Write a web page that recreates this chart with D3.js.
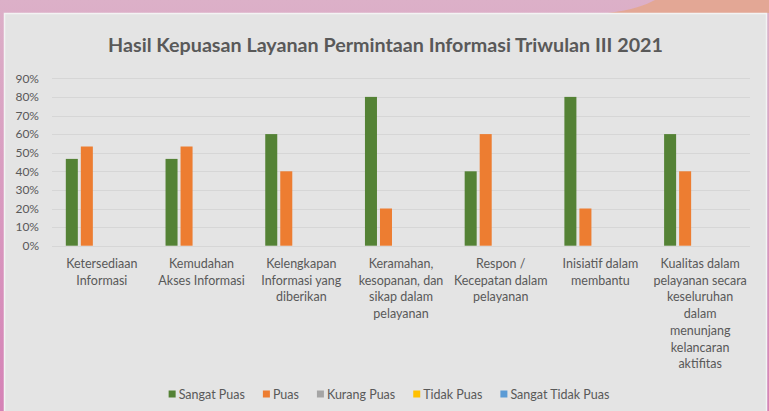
<!DOCTYPE html>
<html>
<head>
<meta charset="utf-8">
<script src="https://cdn.jsdelivr.net/npm/d3@7"></script>
<style>
  html, body { margin: 0; padding: 0; background: #dcb0c8; }
  svg { display: block; }
</style>
</head>
<body>
<div id="chart"></div>
<script>
// data
const categories = [
  "Ketersediaan\nInformasi",
  "Kemudahan\nAkses Informasi",
  "Kelengkapan\nInformasi yang\ndiberikan",
  "Keramahan,\nkesopanan, dan\nsikap dalam\npelayanan",
  "Respon /\nKecepatan dalam\npelayanan",
  "Inisiatif dalam\nmembantu",
  "Kualitas dalam\npelayanan secara\nkeseluruhan\ndalam\nmenunjang\nkelancaran\naktifitas"
];
const seriesNames = ["Sangat Puas", "Puas", "Kurang Puas", "Tidak Puas", "Sangat Tidak Puas"];
const sangatPuas = [0.4667, 0.4667, 0.6, 0.8, 0.4, 0.8, 0.6];
const puas = [0.5333, 0.5333, 0.4, 0.2, 0.6, 0.2, 0.4];
const kurangPuas = [0, 0, 0, 0, 0, 0, 0];
const tidakPuas = [0, 0, 0, 0, 0, 0, 0];
const sangatTidakPuas = [0, 0, 0, 0, 0, 0, 0];
const yTicks = [0, 0.1, 0.2, 0.3, 0.4, 0.5, 0.6, 0.7, 0.8, 0.9];
const title = "Hasil Kepuasan Layanan Permintaan Informasi Triwulan III 2021";

const seriesValues = [sangatPuas, puas, kurangPuas, tidakPuas, sangatTidakPuas];
const colors = ["#548235", "#ed7d31", "#a5a5a5", "#ffc000", "#5b9bd5"];

const W = 769, H = 411;
const font = "Lato, 'Open Sans', sans-serif";
const textColor = "#595959";
const labelSize = "12.5px";

const svg = d3.select("#chart").append("svg")
  .attr("width", W).attr("height", H);

// background decoration
const defs = svg.append("defs");
const grad = defs.append("linearGradient").attr("id", "pinkbg")
  .attr("x1", 0).attr("y1", 0).attr("x2", 0).attr("y2", 1);
grad.append("stop").attr("offset", "0%").attr("stop-color", "#dcb0c8");
grad.append("stop").attr("offset", "100%").attr("stop-color", "#d582b6");

svg.append("rect").attr("width", W).attr("height", H).attr("fill", "url(#pinkbg)");
svg.append("path")
  .attr("d", "M608,13 C632,10 646,5 655,0 L769,0 L769,13 Z")
  .attr("fill", "#e3a795");

// chart panel
svg.append("rect")
  .attr("x", 4.5).attr("y", 13.5).attr("width", 762).attr("height", 410)
  .attr("fill", "#e4e4e4").attr("stroke", "#f3f3f3").attr("stroke-width", 1.5);

// scales
const plot = { left: 52, right: 750, top: 78.3, bottom: 245.7 };

const x0 = d3.scaleBand()
  .domain(d3.range(categories.length))
  .range([plot.left, plot.right])
  .padding(0);

const x1 = d3.scaleBand()
  .domain(seriesNames)
  .range([0, x0.bandwidth()])
  .paddingInner(0.2)
  .paddingOuter(0.92);

const y = d3.scaleLinear().domain([0, 0.9]).range([plot.bottom, plot.top]);

// gridlines
svg.append("g")
  .selectAll("line")
  .data(yTicks)
  .join("line")
  .attr("x1", plot.left).attr("x2", plot.right)
  .attr("y1", d => Math.round(y(d)) + 0.5).attr("y2", d => Math.round(y(d)) + 0.5)
  .attr("stroke", "#d6d6d6").attr("stroke-width", 1);

// y axis labels
const yAxis = d3.axisLeft(y).tickValues(yTicks).tickFormat(d3.format(".0%")).tickSize(0).tickPadding(0);
svg.append("g")
  .attr("transform", `translate(${plot.left - 13},0)`)
  .call(yAxis)
  .call(g => g.select(".domain").remove())
  .call(g => g.selectAll("text")
    .attr("fill", textColor)
    .style("font-family", font)
    .style("font-size", "12px"));

// bars
const groups = svg.append("g")
  .selectAll("g")
  .data(categories.map((c, i) => i))
  .join("g")
  .attr("transform", i => `translate(${x0(i)},0)`);

groups.selectAll("rect")
  .data(i => seriesNames.map((s, k) => ({ s, k, v: seriesValues[k][i] })))
  .join("rect")
  .filter(d => d.v > 0)
  .attr("x", d => x1(d.s))
  .attr("width", x1.bandwidth())
  .attr("y", d => y(d.v))
  .attr("height", d => y(0) - y(d.v))
  .attr("fill", d => colors[d.k]);

// x axis category labels
const xLabels = svg.append("g")
  .selectAll("text")
  .data(categories)
  .join("text")
  .attr("x", (d, i) => x0(i) + x0.bandwidth() / 2)
  .attr("y", 268)
  .attr("text-anchor", "middle")
  .attr("fill", textColor)
  .style("font-family", font)
  .style("font-size", labelSize);

xLabels.selectAll("tspan")
  .data(d => d.split("\n"))
  .join("tspan")
  .attr("x", function () { return this.parentNode.getAttribute("x"); })
  .attr("dy", (d, j) => j === 0 ? 0 : 16.7)
  .text(d => d);

// title
const titleText = svg.append("text")
  .attr("x", 385.5)
  .attr("y", 52)
  .attr("text-anchor", "middle")
  .attr("fill", textColor)
  .style("font-family", font)
  .style("font-weight", "bold")
  .style("font-size", "18px")
  .text(title);
const tw = titleText.node().getComputedTextLength();
titleText.style("font-size", (18 * 555 / tw).toFixed(2) + "px");

// legend
const legend = svg.append("g");
const items = legend.selectAll("g")
  .data(seriesNames)
  .join("g");
items.append("rect")
  .attr("width", 7).attr("height", 7)
  .attr("y", 390.5)
  .attr("fill", (d, i) => colors[i]);
items.append("text")
  .attr("x", 10)
  .attr("y", 398.5)
  .attr("fill", textColor)
  .style("font-family", font)
  .style("font-size", labelSize)
  .text(d => d);

let cx = 0;
const offsets = [];
items.each(function () {
  offsets.push(cx);
  const w = d3.select(this).select("text").node().getComputedTextLength();
  cx += 10 + w + 18;
});
const totalW = cx - 18;
const startX = 389 - totalW / 2;
items.attr("transform", (d, i) => `translate(${startX + offsets[i]},0)`);
</script>
</body>
</html>
